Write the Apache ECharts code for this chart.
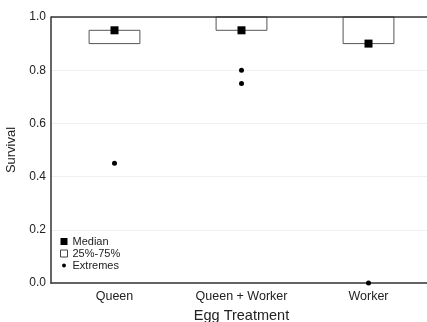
<!DOCTYPE html>
<html><head><meta charset="utf-8">
<script src="https://cdn.jsdelivr.net/npm/echarts@6/dist/echarts.min.js"></script>
<style>html,body{margin:0;padding:0;background:#fff}#c{width:427px;height:322px}</style>
</head><body><div id="c"></div>
<script>
const categories = ['Queen', 'Queen + Worker', 'Worker'];
const q1 = [0.90, 0.95, 0.90];
const q3 = [0.95, 1.00, 1.00];
const medians = [0.95, 0.95, 0.90];
const extremes = [[0, 0.45], [1, 0.80], [1, 0.75], [2, 0.0]];
const yTicks = [0, 0.2, 0.4, 0.6, 0.8, 1.0];

const font = 'Liberation Sans, Arial, sans-serif';
const chart = echarts.init(document.getElementById('c'));
chart.setOption({
  animation: false,
  grid: { left: 51, right: -5, top: 17, bottom: 39, show: false, outerBoundsMode: 'none', containLabel: false },
  legend: {
    orient: 'vertical', left: 55, top: 231, itemWidth: 7, itemHeight: 7, itemGap: 1,
    textStyle: { fontFamily: font, fontSize: 11, color: '#222', padding: [0, 0, 0, 0] },
    data: [
      { name: 'Median', icon: 'rect', itemStyle: { color: '#000' } },
      { name: '25%-75%', icon: 'rect', itemStyle: { color: '#fff', borderColor: '#444', borderWidth: 1 } },
      { name: 'Extremes', icon: 'path://M0,0 L0.01,0 Z M10,10 L9.99,10 Z M2.2,5 a2.8,2.8 0 1,0 5.6,0 a2.8,2.8 0 1,0 -5.6,0 Z', itemStyle: { color: '#000' } }
    ]
  },
  xAxis: {
    type: 'category', data: categories, boundaryGap: true,
    name: 'Egg Treatment', nameLocation: 'middle', nameGap: 25,
    nameTextStyle: { fontFamily: font, fontSize: 14.5, color: '#222' },
    axisLine: { lineStyle: { color: '#333', width: 1.5 } },
    axisTick: { show: false },
    axisLabel: { fontFamily: font, fontSize: 12.5, color: '#222', margin: 7 },
    splitLine: { show: false }
  },
  yAxis: {
    type: 'value', min: 0, max: 1, interval: 0.2,
    name: 'Survival', nameLocation: 'middle', nameGap: 28,
    nameTextStyle: { fontFamily: font, fontSize: 13, color: '#222' },
    axisLine: { show: true, lineStyle: { color: '#333', width: 1.5 } },
    axisTick: { show: false },
    axisLabel: { fontFamily: font, fontSize: 12, color: '#222', margin: 5,
      formatter: v => v.toFixed(1) },
    splitLine: { show: true, lineStyle: { color: '#f0f0f0', width: 1 } }
  },
  series: [
    {
      name: 'top', type: 'line', data: categories.map(() => 1.0), silent: true,
      symbol: 'none', lineStyle: { opacity: 0 }, legendHoverLink: false,
      markLine: { silent: true, symbol: 'none', label: { show: false },
        lineStyle: { color: '#333', width: 1.5, type: 'solid' }, data: [{ yAxis: 1.0 }] }
    },
    {
      name: '25%-75%', type: 'custom', z: 2,
      itemStyle: { color: '#fff', borderColor: '#444' },
      data: categories.map((c, i) => [i, q1[i], q3[i]]),
      renderItem: (params, api) => {
        const lo = api.coord([api.value(0), api.value(1)]);
        const hi = api.coord([api.value(0), api.value(2)]);
        const w = api.size([1, 0])[0] * 0.4;
        return {
          type: 'rect',
          shape: { x: lo[0] - w / 2, y: hi[1], width: w, height: lo[1] - hi[1] },
          style: { fill: '#fff', stroke: '#555', lineWidth: 1 }
        };
      }
    },
    {
      name: 'Median', type: 'scatter', symbol: 'rect', symbolSize: 8, z: 4,
      itemStyle: { color: '#000', opacity: 1 },
      data: categories.map((c, i) => [i, medians[i]])
    },
    {
      name: 'Extremes', type: 'scatter', symbol: 'circle', symbolSize: 5, z: 4,
      itemStyle: { color: '#000', opacity: 1 },
      data: extremes
    }
  ]
});
</script></body></html>
